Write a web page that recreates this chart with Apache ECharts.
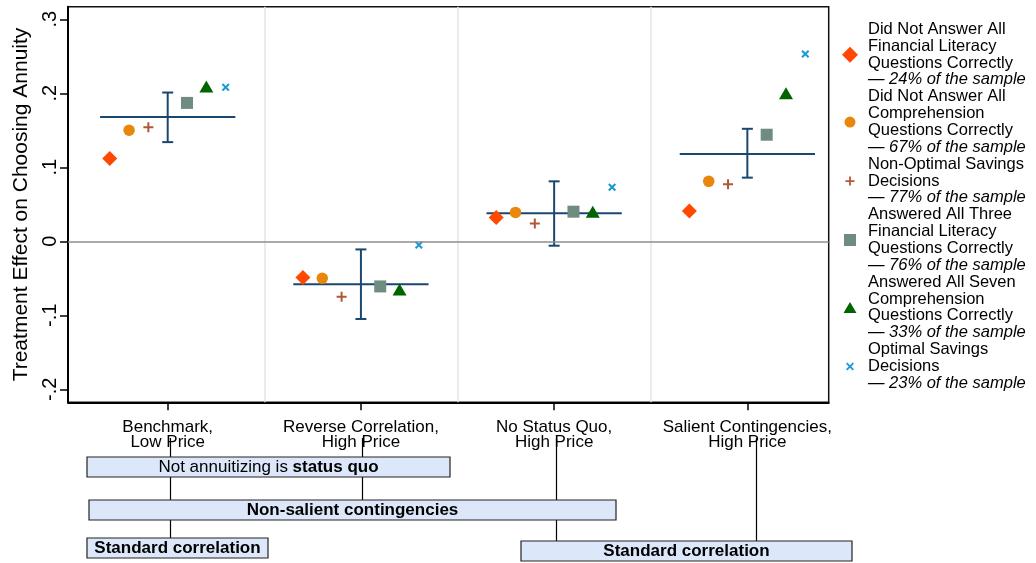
<!DOCTYPE html>
<html>
<head>
<meta charset="utf-8">
<script src="https://cdn.jsdelivr.net/npm/echarts@6/dist/echarts.min.js"></script>
<style>
html, body { margin: 0; padding: 0; background: #fff; }
#chart { width: 1036px; height: 563px; }
</style>
</head>
<body>
<div id="chart"></div>
<script>
// Treatment arms (x positions 1..4)
const categories = [
  'Benchmark,\nLow Price',
  'Reverse Correlation,\nHigh Price',
  'No Status Quo,\nHigh Price',
  'Salient Contingencies,\nHigh Price'
];

// Y axis ticks and their labels
const yTicks = [-0.2, -0.1, 0, 0.1, 0.2, 0.3];
const yTickLabels = ['-.2', '-.1', '0', '.1', '.2', '.3'];

// Full-sample treatment effect with 95% confidence interval
const pointEstimate = [0.168, -0.058, 0.038, 0.118];
const ciLower = [0.134, -0.105, -0.006, 0.086];
const ciUpper = [0.201, -0.011, 0.081, 0.152];

// Subgroup treatment effects, one value per treatment arm
const lowFinLit   = [0.112, -0.049, 0.032, 0.041];
const lowComp     = [0.150, -0.050, 0.039, 0.081];
const nonOptSav   = [0.154, -0.075, 0.024, 0.077];
const highFinLit  = [0.187, -0.061, 0.040, 0.144];
const highComp    = [0.209, -0.065, 0.040, 0.200];
const optSav      = [0.208, -0.005, 0.073, 0.253];

// Legend text for each subgroup: wrapped lines, then the sample share
const subgroupLines = [
  ['Did Not Answer All', 'Financial Literacy', 'Questions Correctly'],
  ['Did Not Answer All', 'Comprehension', 'Questions Correctly'],
  ['Non-Optimal Savings', 'Decisions'],
  ['Answered All Three', 'Financial Literacy', 'Questions Correctly'],
  ['Answered All Seven', 'Comprehension', 'Questions Correctly'],
  ['Optimal Savings', 'Decisions']
];
const subgroupShare = ['24%', '67%', '77%', '76%', '33%', '23%'];

// Design features listed under the arms
const statusQuoPrefix = 'Not annuitizing is ';
const statusQuoBold = 'status quo';
const contingencyText = 'Non-salient contingencies';
const correlationText = 'Standard correlation';

const FONT = '"Liberation Sans", Arial, Helvetica, sans-serif';

const subgroupValues = [lowFinLit, lowComp, nonOptSav, highFinLit, highComp, optSav];
const subgroupOffsets = [-0.3, -0.2, -0.1, 0.1, 0.2, 0.3];
const subgroupColors = ['#ff4800', '#e8870b', '#b05836', '#6e8c80', '#006400', '#1a9bd0'];
const plusPath = 'path://M4,0H6V4H10V6H6V10H4V6H0V4H4Z';
const crossPath = 'path://M0,1.8L1.8,0L5,3.2L8.2,0L10,1.8L6.8,5L10,8.2L8.2,10L5,6.8L1.8,10L0,8.2L3.2,5Z';
const subgroupSymbols = ['diamond', 'circle', plusPath, 'rect', 'triangle', crossPath];
const subgroupSizes = [15, 11.5, 10, 12, [14, 12], 8];

// Legend icons share a 16x16 box; corner points fix the box so each glyph keeps its own size
const pad = 'M0,0L0.01,0M16,16L15.99,16';
const legendIcons = [
  'diamond',
  'path://' + pad + 'M13.5,8A5.5,5.5,0,1,1,2.5,8A5.5,5.5,0,1,1,13.5,8Z',
  'path://' + pad + 'M7.1,3.5H8.9V7.1H12.5V8.9H8.9V12.5H7.1V8.9H3.5V7.1H7.1Z',
  'path://' + pad + 'M2,2H14V14H2Z',
  'path://' + pad + 'M8,2.5L14.5,13.5H1.5Z',
  'path://' + pad + 'M4,5.3L5.3,4L8,6.7L10.7,4L12,5.3L9.3,8L12,10.7L10.7,12L8,9.3L5.3,12L4,10.7L6.7,8Z'
];

const subgroupNames = subgroupLines.map(l => l.join(' '));

const scatterSeries = subgroupValues.map((vals, k) => ({
  name: subgroupNames[k],
  type: 'scatter',
  z: 4,
  symbol: subgroupSymbols[k],
  symbolSize: subgroupSizes[k],
  itemStyle: { color: subgroupColors[k], opacity: 1 },
  data: vals.map((v, i) => [i + 1 + subgroupOffsets[k], v])
}));

const dividers = categories.slice(1).map((c, i) => ({ xAxis: i + 1.5, lineStyle: { color: '#e4e4e4', width: 1.5, type: 'solid' } }));

const estimateSeries = {
  name: 'estimate',
  type: 'custom',
  z: 3,
  data: categories.map((c, i) => [i + 1, pointEstimate[i], ciLower[i], ciUpper[i]]),
  encode: { x: 0, y: 1 },
  renderItem: (params, api) => {
    const x = api.value(0), est = api.value(1), lo = api.value(2), hi = api.value(3);
    const half = 0.35, cap = 5.5;
    const pL = api.coord([x - half, est]);
    const pR = api.coord([x + half, est]);
    const pLo = api.coord([x, lo]);
    const pHi = api.coord([x, hi]);
    const style = { stroke: '#1a476f', lineWidth: 2, fill: null };
    return {
      type: 'group',
      children: [
        { type: 'line', shape: { x1: pL[0], y1: pL[1], x2: pR[0], y2: pR[1] }, style },
        { type: 'line', shape: { x1: pLo[0], y1: pLo[1], x2: pHi[0], y2: pHi[1] }, style },
        { type: 'line', shape: { x1: pLo[0] - cap, y1: pLo[1], x2: pLo[0] + cap, y2: pLo[1] }, style },
        { type: 'line', shape: { x1: pHi[0] - cap, y1: pHi[1], x2: pHi[0] + cap, y2: pHi[1] }, style }
      ]
    };
  },
  markLine: {
    silent: true,
    symbol: 'none',
    animation: false,
    label: { show: false },
    data: dividers.concat([{ yAxis: 0, lineStyle: { color: '#8e8e8e', width: 1.6, type: 'solid' } }])
  }
};

const legendRich = {
  n: { fontFamily: FONT, fontSize: 16.5, lineHeight: 16.8, color: '#000', padding: [0, 0, 0, 5] },
  i: { fontFamily: FONT, fontSize: 16.5, lineHeight: 16.8, color: '#000', fontStyle: 'italic', padding: [0, 0, 0, 5] }
};

const boxStyle = { fill: '#dde7fa', stroke: '#222', lineWidth: 1.2 };
const connStyle = { stroke: '#000', lineWidth: 1.2 };
function conn(x, y1, y2) {
  return { type: 'line', shape: { x1: x, y1: y1, x2: x, y2: y2 }, style: connStyle, silent: true };
}
function box(x, y, w, h) {
  return { type: 'rect', shape: { x: x, y: y, width: w, height: h }, style: boxStyle, silent: true };
}
function boxText(cx, cy, text, rich) {
  return {
    type: 'text', x: cx, y: cy, silent: true,
    style: { text: text, rich: rich, align: 'center', verticalAlign: 'middle', fontFamily: FONT, fontSize: 17, fill: '#000' }
  };
}
const boxRich = {
  r: { fontFamily: FONT, fontSize: 17, fill: '#000', color: '#000' },
  b: { fontFamily: FONT, fontSize: 17, fontWeight: 'bold', fill: '#000', color: '#000' }
};

const option = {
  animation: false,
  backgroundColor: '#fff',
  grid: { left: 68, right: 207.3, top: 6.7, bottom: 160.7, show: true, borderColor: '#111', borderWidth: 1.5 },
  xAxis: {
    type: 'value',
    min: 0.484,
    max: 4.421,
    splitLine: { show: false },
    axisLine: { show: true, onZero: false, lineStyle: { color: '#000', width: 2 } },
    axisTick: { show: true, length: 8, customValues: [1, 2, 3, 4], lineStyle: { color: '#000', width: 1.5 } },
    axisLabel: {
      customValues: [1, 2, 3, 4],
      formatter: v => categories[Math.round(v) - 1],
      fontFamily: FONT, fontSize: 17, lineHeight: 15.5, color: '#000', margin: 17
    }
  },
  yAxis: {
    type: 'value',
    min: -0.2176,
    max: 0.317,
    name: 'Treatment Effect on Choosing Annuity',
    nameLocation: 'middle',
    nameGap: 34,
    nameTextStyle: { fontFamily: FONT, fontSize: 21, color: '#000' },
    splitLine: { show: false },
    axisLine: { show: true, lineStyle: { color: '#000', width: 2 } },
    axisTick: { show: true, length: 8, customValues: yTicks, lineStyle: { color: '#000', width: 1.5 } },
    axisLabel: {
      customValues: yTicks,
      formatter: v => {
        const k = yTicks.findIndex(t => Math.abs(t - v) < 1e-9);
        return k >= 0 ? yTickLabels[k] : '';
      },
      rotate: 90, fontFamily: FONT, fontSize: 20, color: '#000', margin: 8
    }
  },
  legend: {
    orient: 'vertical',
    left: 842,
    top: 21,
    padding: 0,
    itemGap: 0,
    itemWidth: 16,
    itemHeight: 16,
    selectedMode: false,
    data: subgroupNames.map((n, k) => ({ name: n, icon: legendIcons[k], itemStyle: { color: subgroupColors[k] } })),
    formatter: name => {
      const k = subgroupNames.indexOf(name);
      return subgroupLines[k].map(l => '{n|' + l + '}').join('\n') + '\n{i|— ' + subgroupShare[k] + ' of the sample}';
    },
    textStyle: { rich: legendRich }
  },
  graphic: [
    conn(170.5, 438, 457), conn(170.5, 477, 500), conn(170.5, 520, 538),
    conn(362.5, 438, 457), conn(362.5, 477, 500),
    conn(556.5, 438, 500), conn(556.5, 520, 541),
    conn(756.5, 438, 541),
    box(87, 457, 363, 20),
    box(89, 500, 527, 20),
    box(87, 538, 181, 20),
    box(521, 541, 331, 20),
    boxText(268.5, 467, '{r|' + statusQuoPrefix + '}{b|' + statusQuoBold + '}', boxRich),
    boxText(352.5, 510, '{b|' + contingencyText + '}', boxRich),
    boxText(177.5, 548, '{b|' + correlationText + '}', boxRich),
    boxText(686.5, 551, '{b|' + correlationText + '}', boxRich)
  ],
  series: [estimateSeries].concat(scatterSeries)
};

const chart = echarts.init(document.getElementById('chart'), null, { renderer: 'canvas' });
chart.setOption(option);
</script>
</body>
</html>
